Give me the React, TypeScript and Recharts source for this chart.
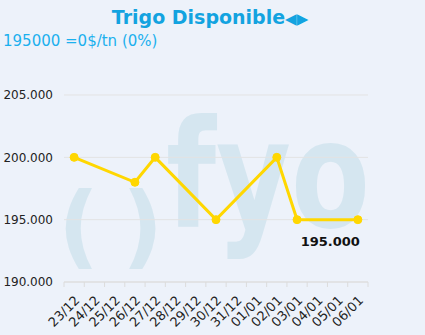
import React from 'react';
import { LineChart, Line, XAxis, YAxis, CartesianGrid } from 'recharts';

const days = ['23/12', '24/12', '25/12', '26/12', '27/12', '28/12', '29/12', '30/12', '31/12', '01/01', '02/01', '03/01', '04/01', '05/01', '06/01'];
const prices = [200000, null, null, 198000, 200000, null, null, 195000, null, null, 200000, 195000, null, null, 195000];
const yTicks = [190000, 195000, 200000, 205000];

const data = days.map((d, i) => ({ day: d, price: prices[i] }));

const fmt = (v: number) => v.toString().replace(/\B(?=(\d{3})+(?!\d))/g, '.');

const PLOT_LEFT = 64;
const PLOT_RIGHT = 368;
const BAND = (PLOT_RIGHT - PLOT_LEFT) / days.length;

const DayTick = (props: any) => {
  const { x, y, payload, index } = props;
  const half = BAND / 2;
  return (
    <g>
      <line x1={x - half} y1={y - 8} x2={x - half} y2={y - 3} stroke="#dcdcdc" />
      {index === days.length - 1 && (
        <line x1={x + half} y1={y - 8} x2={x + half} y2={y - 3} stroke="#dcdcdc" />
      )}
      <text
        transform={`translate(${x + 3},${y + 8}) rotate(-45)`}
        textAnchor="end"
        dy="0.35em"
        fontSize={13}
        fill="#222"
        fontFamily="DejaVu Sans"
      >
        {payload.value}
      </text>
    </g>
  );
};

const LastLabel = (props: any) => {
  const { x, y, index, value } = props;
  if (index !== days.length - 1 || value == null) return null;
  return (
    <text x={x + 2} y={y + 26} textAnchor="end" fontSize={13} fontWeight="bold" fill="#111" fontFamily="DejaVu Sans">
      {fmt(value)}
    </text>
  );
};

export default function App() {
  return (
    <div style={{ position: 'fixed', left: 0, top: 0, width: 425, height: 335, background: '#edf2fa', overflow: 'hidden', fontFamily: 'DejaVu Sans' }}>
      <svg width={425} height={335} style={{ position: 'absolute', left: 0, top: 0 }}>
        <g fill="#d5e6f0" fontFamily="DejaVu Sans" fontWeight="bold">
          <text x={58} y={257} fontSize={90}>(</text>
          <text x={122} y={257} fontSize={90}>)</text>
          <text x={166} y={227} fontSize={150} textLength={204} lengthAdjust="spacingAndGlyphs">fyo</text>
        </g>
      </svg>
      <div style={{ position: 'absolute', left: 0, top: 6, width: 420, textAlign: 'center', color: '#13a3e0', fontWeight: 'bold', fontSize: 19 }}>
        Trigo Disponible<span style={{ fontSize: 15 }}>◀▶</span>
      </div>
      <div style={{ position: 'absolute', left: 3, top: 32, color: '#1bb0ee', fontSize: 15 }}>
        195000 =0$/tn (0%)
      </div>
      <div style={{ position: 'absolute', left: 0, top: 0 }}>
        <LineChart width={425} height={335} data={data} margin={{ top: 95, right: 425 - PLOT_RIGHT, bottom: 0, left: 0 }}>
          <CartesianGrid vertical={false} stroke="#e3e3e3" />
          <XAxis
            dataKey="day"
            height={53}
            interval={0}
            padding={{ left: BAND / 2, right: BAND / 2 }}
            tickLine={false}
            axisLine={{ stroke: '#dcdcdc' }}
            tick={<DayTick />}
          />
          <YAxis
            width={PLOT_LEFT}
            domain={[190000, 205000]}
            ticks={yTicks}
            tickFormatter={fmt}
            axisLine={false}
            tickLine={false}
            tickMargin={5}
            tick={{ fontSize: 12, fill: '#222', fontFamily: 'DejaVu Sans' }}
          />
          <Line
            type="linear"
            dataKey="price"
            stroke="#ffd700"
            strokeWidth={3}
            dot={{ r: 4, fill: '#ffd700', stroke: '#ffd700', strokeWidth: 1 }}
            connectNulls
            isAnimationActive={false}
            label={<LastLabel />}
          />
        </LineChart>
      </div>
    </div>
  );
}
